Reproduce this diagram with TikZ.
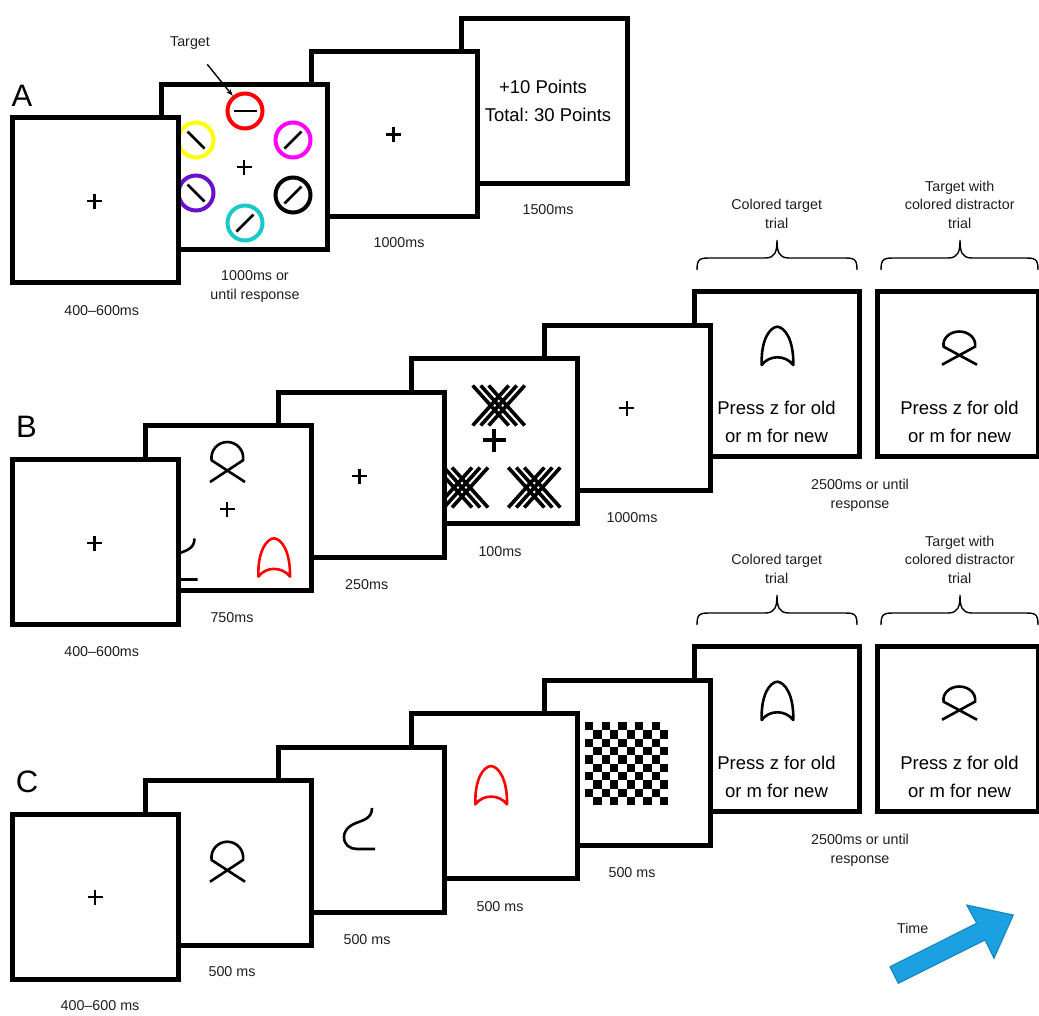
\documentclass[tikz,border=0pt]{standalone}
\usepackage{fontspec}
\setmainfont{Liberation Sans}
\frenchspacing
\usetikzlibrary{arrows.meta}
\definecolor{tblue}{HTML}{1BA1E2}
\definecolor{tbluedk}{HTML}{1380BA}
\definecolor{cpurple}{HTML}{6A11CB}
\definecolor{ccyan}{HTML}{1CC8C8}
\definecolor{cyel}{HTML}{FFFF00}
\definecolor{cmag}{HTML}{FF00FF}
\definecolor{cred}{HTML}{FF0000}
\newcommand\mybrace[4]{%
  \draw[bracestyle] (#1,#4) .. controls (#1,#4-12) and (#1+3,#4-12) .. (#1+15,#4-12)
    -- (#2-12,#4-12) .. controls (#2-2,#4-12) and (#2,#4-18) .. (#2,#4-30)
    .. controls (#2,#4-18) and (#2+2,#4-12) .. (#2+12,#4-12)
    -- (#3-15,#4-12) .. controls (#3-3,#4-12) and (#3,#4-12) .. (#3,#4);}
\begin{document}
\begin{tikzpicture}[x=1pt,y=-1pt,
  frame/.style={draw, line width=5pt, fill=white, minimum width=166pt, minimum height=165pt, inner sep=0pt, outer sep=0pt},
  lbl/.style={font=\fontsize{14.3}{18.5}\selectfont, align=center, inner sep=0pt, text=black!88},
  big/.style={font=\fontsize{18.5}{28}\selectfont, align=center, inner sep=0pt},
  panel/.style={font=\fontsize{31}{31}\selectfont, inner sep=0pt},
  stimring/.style={circle, draw=#1, line width=4pt, minimum size=35pt, inner sep=0pt},
  bar/.style={line width=2.5pt},
  bracestyle/.style={line width=1.4pt},
  shp/.style={line width=2.6pt},
  fix/.pic={\draw[line width=2.1pt] (-7.5,0) -- (7.5,0) (0,-7.5) -- (0,7.5);},
  qsh/.pic={\draw[shp] (17.7,11.7) -- (-15.7,-10) .. controls (-17.2,-19.6) and (-9.75,-28.3) .. (0,-28.3)
      .. controls (9.75,-28.3) and (17.2,-19.6) .. (15.7,-10) -- (-17.3,11.7);},
  arch/.pic={\draw[shp, line join=round] (-15.6,38.3) .. controls (-16.5,12) and (-7,0.5) .. (0,0)
      .. controls (7,0.5) and (16.5,12) .. (16,38.3) .. controls (8,28) and (-8,28) .. cycle;},
  hook/.pic={\draw[shp] (0,0) .. controls (0,10) and (-8,12) .. (-16,15) .. controls (-26,19) and (-28,25) .. (-28,29)
      .. controls (-28,37) and (-22,41) .. (-15,41) -- (3,41);},
  xcl/.pic={\draw[line width=3.6pt]
      (-26,-20) -- (10,20) (10,-20) -- (-26,20)
      (-18,-20) -- (18,20) (18,-20) -- (-18,20)
      (-10,-20) -- (26,20) (26,-20) -- (-10,20);}
]
\clip (0,0) rectangle (1039,1015);
\fill[white] (0,0) rectangle (1039,1015);

% ================= Panel A =================
\node[panel] (pA) at (22,96) {A};
\node[frame] (a4) at (544.2,100.6) {};
\node[big] (a4t1) at (543,87) {+10 Points};
\node[big] (a4t2) at (548,115) {Total: 30 Points};
\node[frame] (a3) at (394.6,134.35) {};
\pic at (393.5,134.5) {fix};
\node[frame] (a2) at (244.75,166.5) {};
\node[stimring=cred] (tgt) at (245,111) {};
\draw[bar] (233.5,111) -- (256.5,111);
\node[stimring=cyel] (cy) at (196,140) {};
\draw[bar] (187.5,131.5) -- (204.5,148.5);
\node[stimring=cmag] (cm) at (293,140) {};
\draw[bar] (284.5,148.5) -- (301.5,131.5);
\node[stimring=cpurple] (cp) at (196,193) {};
\draw[bar] (187.5,184.5) -- (204.5,201.5);
\node[stimring=black] (ck) at (293,195) {};
\draw[bar] (284.5,203.5) -- (301.5,186.5);
\node[stimring=ccyan] (cc) at (245,223) {};
\draw[bar] (236.5,231.5) -- (253.5,214.5);
\pic at (244,167) {fix};
\node[frame] (a1) at (95.25,200) {};
\pic at (94.5,201) {fix};

\node[lbl] (tl) at (190,43) {Target};
\draw[line width=1.4pt, -{Stealth[length=7pt,width=5pt]}, shorten <=19pt] (tl) -- (tgt);

\node[lbl] (la1) at (101.7,310.7) {400–600ms};
\node[lbl] (la2) at (255,286.5) {1000ms or\\until response};
\node[lbl] (la3) at (399,243) {1000ms};
\node[lbl] (la4) at (548,210) {1500ms};

% ================= Panel B =================
\node[panel] (pB) at (26.5,427) {B};
\node[lbl] (bb1) at (776.7,214) {Colored target\\trial};
\node[lbl] (bb2) at (959.7,204.5) {Target with\\colored distractor\\trial};
\mybrace{697}{777}{857}{270}
\mybrace{881}{960}{1038}{270}

\node[frame, minimum width=161pt] (b7) at (958,374) {};
\pic[yscale=0.83] at (959.3,355) {qsh};
\node[big] (b7t) at (959.5,422) {Press z for old\\or m for new};
\node[frame, minimum width=165pt] (b6) at (776.5,374) {};
\pic at (777.3,326.7) {arch};
\node[big] (b6t) at (776.5,422) {Press z for old\\or m for new};
\node[frame] (b5) at (627.5,408) {};
\pic at (626.7,408.3) {fix};
\node[frame] (b4) at (494.25,441.25) {};
\pic at (498.7,405.5) {xcl};
\pic at (462,487.5) {xcl};
\pic at (534.3,487.5) {xcl};
\draw[line width=4pt] (482.8,440) -- (505.8,440) (494.3,428.5) -- (494.3,451.5);
\node[frame] (b3) at (361.25,474.75) {};
\pic at (359.5,476) {fix};
\node[frame] (b2) at (228.25,508) {};
\pic at (227.3,470.3) {qsh};
\pic at (227.3,509.3) {fix};
\pic[red] at (274,538.3) {arch};
\pic at (194.5,538.5) {hook};
\node[frame] (b1) at (95.25,541.5) {};
\pic at (94.5,543.3) {fix};

\node[lbl] (lb1) at (101.7,651.7) {400–600ms};
\node[lbl] (lb2) at (232,618) {750ms};
\node[lbl] (lb3) at (366.7,585) {250ms};
\node[lbl] (lb4) at (500,552) {100ms};
\node[lbl] (lb5) at (632,518) {1000ms};
\node[lbl] (lb6) at (860,495.5) {2500ms or until\\response};

% ================= Panel C =================
\node[panel] (pC) at (27,782) {C};
\node[lbl] (cb1) at (776.7,569) {Colored target\\trial};
\node[lbl] (cb2) at (959.7,559.5) {Target with\\colored distractor\\trial};
\mybrace{697}{777}{857}{625}
\mybrace{881}{960}{1038}{625}

\node[frame, minimum width=161pt] (c7) at (958,729) {};
\pic[yscale=0.83] at (959.3,710) {qsh};
\node[big] (c7t) at (959.5,777) {Press z for old\\or m for new};
\node[frame, minimum width=165pt] (c6) at (776.5,729) {};
\pic at (777.3,681.7) {arch};
\node[big] (c6t) at (776.5,777) {Press z for old\\or m for new};
\node[frame] (c5) at (627.5,763) {};
\foreach \i in {0,...,9}{\foreach \j in {0,...,9}{%
  \ifodd\numexpr\i+\j\relax\else
    \fill (585+\i*8.33,722+\j*8.33) rectangle ++(8.4,8.4);
  \fi}}
\node[frame] (c4) at (494.25,796.25) {};
\pic[red] at (491,766) {arch};
\node[frame] (c3) at (361.25,829.75) {};
\pic at (372,808) {hook};
\node[frame] (c2) at (228.25,863) {};
\pic at (227.3,870) {qsh};
\node[frame] (c1) at (95.25,896.5) {};
\pic at (95,897) {fix};

\node[lbl] (lc1) at (100,1006) {400–600 ms};
\node[lbl] (lc2) at (232,972) {500 ms};
\node[lbl] (lc3) at (367,940) {500 ms};
\node[lbl] (lc4) at (500,907) {500 ms};
\node[lbl] (lc5) at (632,873) {500 ms};
\node[lbl] (lc6) at (860,850.5) {2500ms or until\\response};

% ================= Time arrow =================
\draw[fill=tblue, draw=tbluedk, line width=1pt, line join=miter]
  (898.3,983.3) -- (890,966.7) -- (976.7,923.3) -- (966.7,905) -- (1013.3,915)
  -- (994,958.3) -- (985,940) -- cycle;
\node[lbl] (time) at (912.7,928.3) {Time};
\end{tikzpicture}
\end{document}
